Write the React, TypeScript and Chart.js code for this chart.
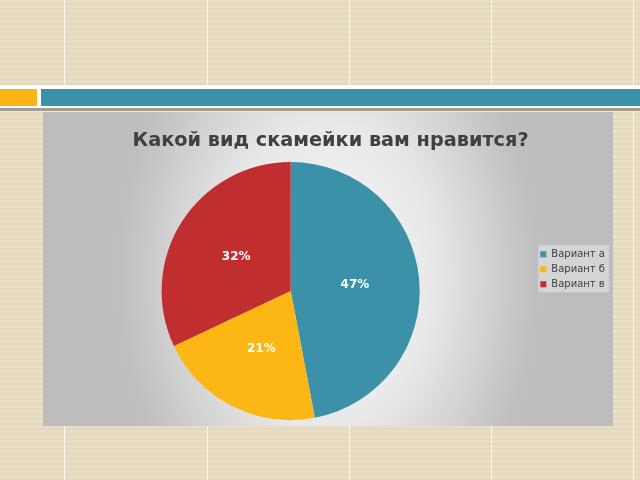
import React, { useEffect, useRef } from "react";
import { Chart, registerables } from "chart.js";

Chart.register(...registerables);

const TITLE = "Какой вид скамейки вам нравится?";
const categories = ["Вариант а", "Вариант б", "Вариант в"];
const shares = [47, 21, 32];
const sliceColors = ["#3A91A8", "#FDB714", "#C12E2F"];

const LEGEND_TITLE_PAD = 131;

const pctLabels = {
  id: "pctLabels",
  afterDatasetsDraw(chart: any) {
    const ctx = chart.ctx;
    const meta = chart.getDatasetMeta(0);
    const data = chart.data.datasets[0].data as number[];
    const total = data.reduce((a: number, b: number) => a + b, 0);
    ctx.save();
    ctx.font = "bold 12px 'DejaVu Sans', sans-serif";
    ctx.fillStyle = "#FFFFFF";
    ctx.textAlign = "center";
    ctx.textBaseline = "middle";
    meta.data.forEach((arc: any, i: number) => {
      const p = arc.getProps(["x", "y", "startAngle", "endAngle", "outerRadius"], true);
      const mid = (p.startAngle + p.endAngle) / 2;
      const r = p.outerRadius * 0.5;
      const x = p.x + Math.cos(mid) * r;
      const y = p.y + Math.sin(mid) * r;
      ctx.fillText(Math.round((data[i] / total) * 100) + "%", x, y);
    });
    ctx.restore();
  },
};

const legendPanel = {
  id: "legendPanel",
  beforeDraw(chart: any) {
    const lg = chart.legend;
    if (!lg) return;
    const ctx = chart.ctx;
    const itemTop = lg.top + 1.2 + LEGEND_TITLE_PAD + 5;
    ctx.save();
    ctx.fillStyle = "rgba(232,232,232,0.55)";
    ctx.fillRect(lg.left + 3, itemTop - 4, lg.right - lg.left - 9, 47);
    ctx.restore();
  },
};

function PieChart() {
  const ref = useRef<HTMLCanvasElement | null>(null);
  useEffect(() => {
    if (!ref.current) return;
    Chart.defaults.font.family = "'DejaVu Sans', sans-serif";
    const chart = new Chart(ref.current, {
      type: "pie",
      data: {
        labels: categories,
        datasets: [
          {
            data: shares,
            backgroundColor: sliceColors,
            borderWidth: 0,
            hoverOffset: 0,
          },
        ],
      },
      options: {
        responsive: false,
        animation: false,
        devicePixelRatio: 1,
        events: [],
        layout: { padding: { left: 3, right: -2, top: 0, bottom: 6 } },
        plugins: {
          title: {
            display: true,
            text: TITLE,
            color: "#404040",
            font: { size: 19.3, weight: "bold", family: "'DejaVu Sans', sans-serif" },
            padding: { top: 17.4, bottom: 9.4 },
          },
          legend: {
            display: true,
            position: "right",
            align: "start",
            title: { display: true, text: "", font: { size: 1 }, padding: { top: LEGEND_TITLE_PAD, bottom: 0 } },
            labels: {
              boxWidth: 6,
              boxHeight: 6,
              padding: 5,
              color: "#404040",
              font: { size: 10, family: "'DejaVu Sans', sans-serif" },
            },
          },
          tooltip: { enabled: false },
        },
      },
      plugins: [pctLabels, legendPanel],
    });
    return () => chart.destroy();
  }, []);
  return <canvas ref={ref} width={570} height={314} style={{ display: "block", width: 570, height: 314 }} />;
}

export default function App() {
  const vlines = [64, 207, 349, 491, 633];
  return (
    <div
      style={{
        position: "fixed",
        left: 0,
        top: 0,
        width: 640,
        height: 480,
        overflow: "hidden",
        background:
          "repeating-linear-gradient(to bottom, #E9DEC5 0px, #E9DEC5 3px, #E3D7BC 3px, #E3D7BC 5px)",
      }}
    >
      {vlines.map((x) => (
        <div key={x} style={{ position: "absolute", left: x, top: 0, width: 1, height: 480, background: "#FBF8F0" }} />
      ))}
      <div style={{ position: "absolute", left: 0, top: 85, width: 640, height: 23, background: "#FFFFFF" }} />
      <div style={{ position: "absolute", left: 0, top: 89, width: 37, height: 17, background: "#FCB514" }} />
      <div style={{ position: "absolute", left: 41, top: 89, width: 599, height: 17, background: "#3A91A8" }} />
      <div style={{ position: "absolute", left: 0, top: 108, width: 640, height: 3, background: "#A29C91" }} />
      <div style={{ position: "absolute", left: 0, top: 111, width: 640, height: 1, background: "#EFE8D8" }} />
      <div
        style={{
          position: "absolute",
          left: 43,
          top: 112,
          width: 570,
          height: 314,
          background:
            "radial-gradient(ellipse 235px 340px at 50% 52%, #FAFAFA 0%, #E8E8E8 45%, #BFBFBF 88%, #BDBDBD 100%)",
        }}
      >
        <PieChart />
      </div>
    </div>
  );
}
